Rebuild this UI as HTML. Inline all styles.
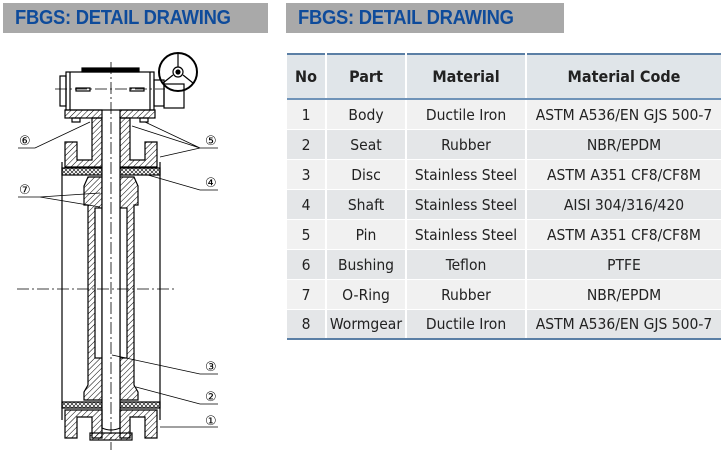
<!DOCTYPE html>
<html><head><meta charset="utf-8"><style>
body{margin:0;width:724px;height:455px;background:#fff;position:relative;overflow:hidden;font-family:"Liberation Sans",sans-serif}
.hd{position:absolute;top:3px;height:30px;background:#a9a9a9;color:#0e4b9b;font-weight:bold;font-size:20px;line-height:31px;padding-left:12px;box-sizing:border-box;letter-spacing:-0.3px;white-space:nowrap}
.hd span{display:inline-block;transform:scaleX(0.92);transform-origin:left}
table{position:absolute;left:287px;top:53px;width:434px;border-collapse:collapse;font-family:"DejaVu Sans Condensed","Liberation Sans",sans-serif;font-size:15.5px;color:#222}
td,th{text-align:center;border-right:2px solid #fff;padding:0;height:29px;border-bottom:1px solid #fff}
td:last-child,th:last-child{border-right:none}
th{height:43px;background:#e0e5e9;font-weight:bold;font-size:16px;border-top:2px solid #5b7fa5;border-bottom:2px solid #6f93b8}
tr.a td{background:#f1f1f1}tr.b td{background:#e4e6e8}
tr:last-child td{border-bottom:2px solid #5b7fa5;height:28px}
</style></head><body>
<div class="hd" style="left:3px;width:265px"><span>FBGS: DETAIL DRAWING</span></div>
<div class="hd" style="left:286px;width:278px"><span>FBGS: DETAIL DRAWING</span></div>
<svg width="280" height="455" style="position:absolute;left:0;top:0">
<defs><pattern id="h" width="4" height="4" patternUnits="userSpaceOnUse" patternTransform="rotate(45)"><line x1="0" y1="0" x2="0" y2="4" stroke="#000" stroke-width="1"/></pattern>
<pattern id="x" width="4" height="4" patternUnits="userSpaceOnUse"><path d="M0 0L4 4M4 0L0 4" stroke="#000" stroke-width="0.6"/></pattern></defs>
<g stroke="#000" stroke-width="1.2" fill="none">
<rect x="66" y="72" width="88" height="38"/>
<rect x="60" y="76" width="6" height="30"/>
<line x1="70" y1="72" x2="70" y2="110"/><line x1="150" y1="72" x2="150" y2="110"/>
<rect x="82" y="68" width="57" height="4" fill="#000"/>
<rect x="154" y="80" width="10" height="26"/><rect x="164" y="84" width="20" height="24"/>
<circle cx="178" cy="72" r="19" stroke-width="2"/><circle cx="178" cy="72" r="5" fill="#fff"/><circle cx="178" cy="72" r="2" fill="#000"/>
<path d="M178 67V54M173 75L163 83M183 75L193 83"/>
<rect x="76" y="88" width="14" height="3"/><rect x="130" y="88" width="14" height="3"/>
<rect x="65" y="110" width="37" height="8" fill="url(#h)"/><rect x="120" y="110" width="35" height="8" fill="url(#h)"/>
<rect x="72" y="118" width="8" height="4"/><rect x="140" y="118" width="8" height="4"/>
<path d="M65 142H77V160H92V118H102V167H65Z" fill="url(#h)"/>
<path d="M157 142H145V160H130V118H120V167H157Z" fill="url(#h)"/>
<line x1="62" y1="162" x2="62" y2="420"/><line x1="160" y1="162" x2="160" y2="420"/>
<rect x="62" y="168" width="40" height="7" fill="url(#x)"/><rect x="120" y="168" width="40" height="7" fill="url(#x)"/>
<rect x="62" y="402" width="40" height="6" fill="url(#x)"/><rect x="120" y="402" width="40" height="6" fill="url(#x)"/>
<path d="M88 177L84 186V205H88V385L84 392V400H102V177Z" fill="url(#h)"/>
<path d="M134 177L138 186V205H134V385L138 392V400H120V177Z" fill="url(#h)"/>
<rect x="95" y="208" width="7" height="150" fill="#fff"/><rect x="120" y="208" width="7" height="150" fill="#fff"/>
<path d="M102 118V428Q111 432 120 428V118" fill="#fff"/>
<path d="M65 438H77V417H92V438H102V410H65Z" fill="url(#h)"/>
<path d="M157 438H145V417H130V438H120V410H157Z" fill="url(#h)"/>
<rect x="90" y="433" width="42" height="7" fill="url(#h)"/>
<g stroke-width="0.8" stroke-dasharray="12 3 2 3"><line x1="111" y1="62" x2="111" y2="450"/><line x1="17" y1="289" x2="175" y2="289"/><line x1="55" y1="89" x2="165" y2="89"/></g>
<g stroke-width="0.8">
<path d="M18 148H35L90 122"/><path d="M200 148H218M200 148L132 126M200 148L160 157M200 148L145 122"/>
<path d="M200 190H218M200 190L148 175"/>
<path d="M18 197H40L100 193M40 197L100 207"/>
<path d="M200 374H218M200 374L112 355"/>
<path d="M200 404H218M200 404L136 387"/>
<path d="M160 427H218"/>
</g></g>
<g font-size="13" font-family="DejaVu Sans,sans-serif" fill="#000">
<text x="19" y="145">⑥</text><text x="205" y="145">⑤</text><text x="205" y="187">④</text>
<text x="19" y="194">⑦</text><text x="205" y="371">③</text><text x="205" y="401">②</text><text x="205" y="425">①</text></g>
</svg>
<table>
<tr><th style="width:38px">No</th><th style="width:78px">Part</th><th style="width:118px">Material</th><th>Material Code</th></tr>
<tr class="a"><td>1</td><td>Body</td><td>Ductile Iron</td><td>ASTM A536/EN GJS 500-7</td></tr>
<tr class="b"><td>2</td><td>Seat</td><td>Rubber</td><td>NBR/EPDM</td></tr>
<tr class="a"><td>3</td><td>Disc</td><td>Stainless Steel</td><td>ASTM A351 CF8/CF8M</td></tr>
<tr class="b"><td>4</td><td>Shaft</td><td>Stainless Steel</td><td>AISI 304/316/420</td></tr>
<tr class="a"><td>5</td><td>Pin</td><td>Stainless Steel</td><td>ASTM A351 CF8/CF8M</td></tr>
<tr class="b"><td>6</td><td>Bushing</td><td>Teflon</td><td>PTFE</td></tr>
<tr class="a"><td>7</td><td>O-Ring</td><td>Rubber</td><td>NBR/EPDM</td></tr>
<tr class="b"><td>8</td><td>Wormgear</td><td>Ductile Iron</td><td>ASTM A536/EN GJS 500-7</td></tr>
</table>
</body></html>
